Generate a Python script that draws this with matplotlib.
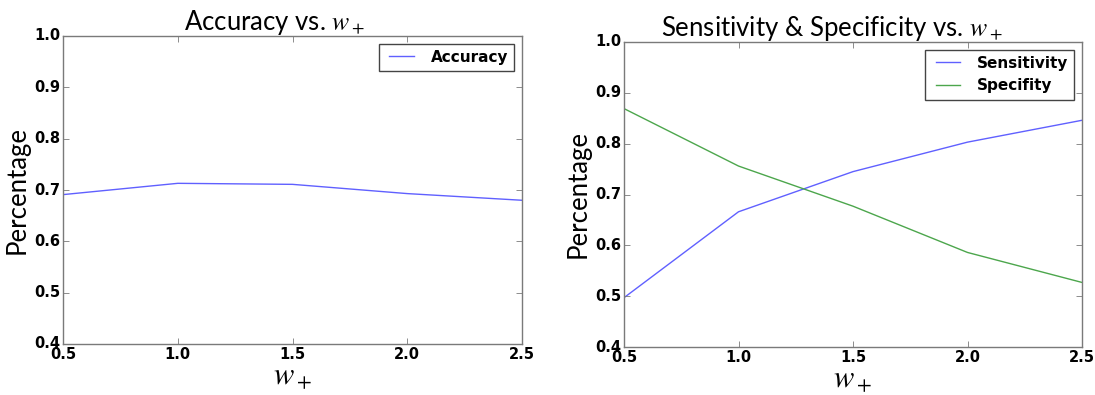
import matplotlib
matplotlib.use('Agg')
from matplotlib import pyplot as plt

# weights w+ and the measured rates
w_plus = [0.5, 1.0, 1.5, 2.0, 2.5]
accuracy = [0.691, 0.713, 0.711, 0.693, 0.680]
sensitivity = [0.497, 0.666, 0.745, 0.803, 0.846]
specificity = [0.869, 0.756, 0.677, 0.586, 0.527]

x_ticks = [0.5, 1.0, 1.5, 2.0, 2.5]
y_ticks = [0.4, 0.5, 0.6, 0.7, 0.8, 0.9, 1.0]

plt.style.use('classic')
plt.rcParams['mathtext.fontset'] = 'stix'

BLUE = '#6060ff'
GREEN = '#4ca64c'
SPINE = '#7a7a7a'
TITLE_FONT = 'Lato'


def style_axes(ax):
    ax.set_xlim(0.5, 2.5)
    ax.set_ylim(0.4, 1.0)
    ax.set_xticks(x_ticks)
    ax.set_yticks(y_ticks)
    ax.set_xticklabels(['%.1f' % v for v in x_ticks], fontweight='bold', fontsize=10.5)
    ax.set_yticklabels(['%.1f' % v for v in y_ticks], fontweight='bold', fontsize=10.5)
    ax.tick_params(axis='both', direction='in', length=4, width=0.6, color=SPINE,
                   top=True, right=True, pad=2)
    for s in ax.spines.values():
        s.set_color(SPINE)
        s.set_linewidth(1.0)
    ax.set_ylabel('Percentage', fontsize=18.5, family=TITLE_FONT, labelpad=3)
    ax.set_xlabel(r'$w_+$', fontsize=22, labelpad=1)


fig = plt.figure(figsize=(10.95, 3.95), dpi=100, facecolor='white')

# left panel
ax1 = fig.add_axes([63/1095, 1-344/395, 459/1095, 308/395])
ax1.plot(w_plus, accuracy, color=BLUE, lw=1.0, label='Accuracy')
style_axes(ax1)
ax1.set_title(r'Accuracy vs. $w_+$', fontsize=18.5, family=TITLE_FONT, pad=4, x=0.46)
leg = ax1.legend(loc='upper right', prop={'weight': 'bold', 'size': 11},
                 handlelength=2.2, borderaxespad=0.5, fancybox=False)
leg.get_frame().set_edgecolor('#444444')

# right panel
ax2 = fig.add_axes([624/1095, 1-347/395, 458/1095, 305/395])
ax2.plot(w_plus, sensitivity, color=BLUE, lw=1.0, label='Sensitivity')
ax2.plot(w_plus, specificity, color=GREEN, lw=1.0, label='Specifity')
style_axes(ax2)
ax2.set_title(r'Sensitivity & Specificity vs. $w_+$', fontsize=18.5, family=TITLE_FONT,
              pad=4, x=0.455)
leg2 = ax2.legend(loc='upper right', prop={'weight': 'bold', 'size': 11},
                  handlelength=2.2, borderaxespad=0.5, fancybox=False)
leg2.get_frame().set_edgecolor('#444444')

plt.savefig('out.png', dpi=100, facecolor='white')
plt.close('all')
